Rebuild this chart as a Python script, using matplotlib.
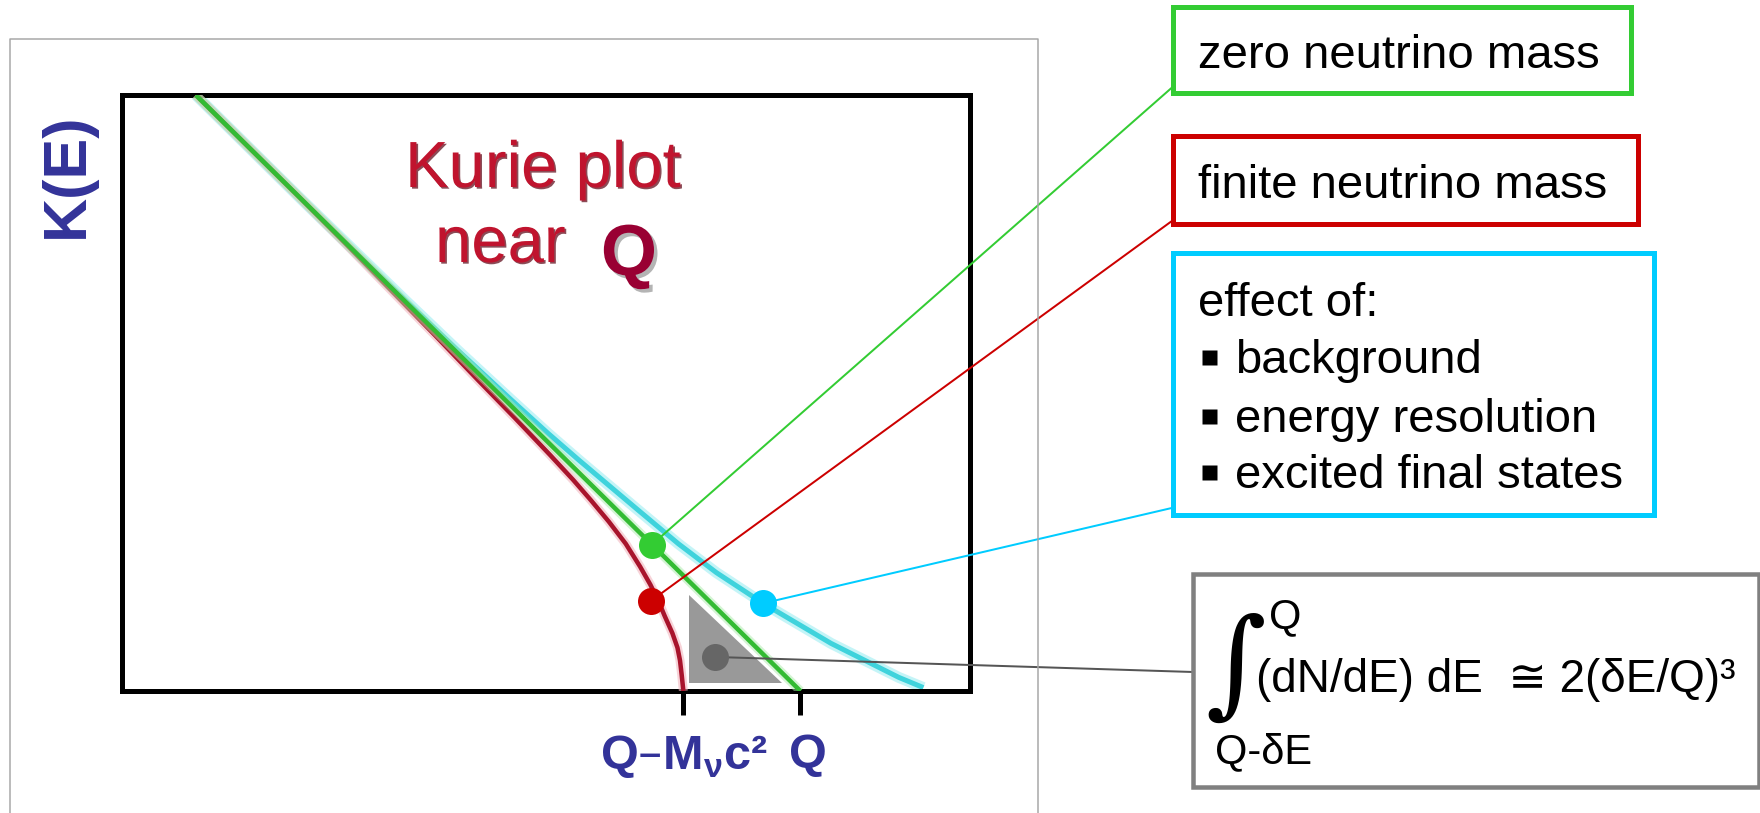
import matplotlib
matplotlib.use("Agg")
import matplotlib.pyplot as plt
from matplotlib.patches import Rectangle, Polygon, ConnectionPatch
from matplotlib.transforms import ScaledTranslation
import matplotlib.patheffects as pe

# ---------------- data (energy E, Kurie function K) ----------------
# zero neutrino mass: straight line ending at Q
energy_zero = [0.87, 8.0]
kurie_zero = [7.0, 0.0]

# finite neutrino mass: bends down to the end point Q - M c^2
energy_finite = [0.87, 2.12, 2.65, 3.17, 3.69, 4.20, 4.63, 5.05, 5.32, 5.53, 5.74,
                 5.94, 6.11, 6.23, 6.32, 6.40, 6.49, 6.55, 6.58, 6.60, 6.62]
kurie_finite = [7.0, 5.77, 5.24, 4.71, 4.18, 3.65, 3.21, 2.77, 2.48, 2.24, 1.99,
                1.73, 1.46, 1.25, 1.07, 0.88, 0.68, 0.51, 0.36, 0.19, 0.0]

# smeared spectrum (background, resolution, final states)
energy_smeared = [0.87, 2.12, 3.34, 3.95, 4.59, 5.02, 5.39, 6.08, 6.56, 7.01,
                  7.56, 8.36, 9.16, 9.45]
kurie_smeared = [7.0, 5.77, 4.59, 4.01, 3.42, 3.03, 2.71, 2.13, 1.73, 1.39,
                 1.03, 0.56, 0.16, 0.04]

# region integrated near the end point
triangle_energy = [6.69, 6.69, 7.78]
triangle_kurie = [1.13, 0.09, 0.09]

# marker dots on each curve
dot_energy = [6.25, 6.24, 7.56, 6.99]
dot_kurie = [1.72, 1.06, 1.03, 0.40]

tick_positions = [6.62, 8.0]
tick_labels = ["Q–M$_{\\mathregular{ν}}$c²", "Q"]

x_range = (0, 10)
y_range = (0, 7)

# ---------------- styling ----------------
GREEN = "#33cc33"
RED = "#cc0000"
CYAN = "#00ccff"
GREY = "#808080"
NAVY = "#333399"
SANS = ["Liberation Sans", "DejaVu Sans"]

W, H, DPI = 1760, 813, 100
fig = plt.figure(figsize=(W / DPI, H / DPI), dpi=DPI, facecolor="white")

def px(v):
    """pixels -> points"""
    return v * 72.0 / DPI

# main plotting area
ax = fig.add_axes([122 / W, (H - 691) / H, 848 / W, 596 / H])
ax.set_xlim(*x_range)
ax.set_ylim(*y_range)
for s in ax.spines.values():
    s.set_linewidth(px(5))
    s.set_color("black")
ax.set_yticks([])
ax.set_xticks(tick_positions, tick_labels)
ax.tick_params(axis="x", direction="out", length=px(24), width=px(5),
               color="black", pad=px(18), labelsize=35, labelcolor=NAVY)
for lbl in ax.get_xticklabels():
    lbl.set_fontweight("bold")
    lbl.set_family(SANS)
q_lbl = ax.get_xticklabels()[1]
q_lbl.set_transform(q_lbl.get_transform() + ScaledTranslation(0.07, 0, fig.dpi_scale_trans))

# overlay in pixel units for annotation layout
ov = fig.add_axes([0, 0, 1, 1])
ov.set_xlim(0, W)
ov.set_ylim(H, 0)
ov.axis("off")
ov.patch.set_alpha(0)
ov.set_zorder(2)

# integrated region
ax.add_patch(Polygon(list(zip(triangle_energy, triangle_kurie)), closed=True,
                     facecolor="#999999", edgecolor="none", zorder=1))

# curves with a soft glow
ax.plot(energy_smeared, kurie_smeared, color="#9eeef2", lw=px(11), alpha=0.6,
        solid_capstyle="butt", solid_joinstyle="round", zorder=2)
ax.plot(energy_smeared, kurie_smeared, color="#3fd3dc", lw=px(5),
        solid_capstyle="butt", solid_joinstyle="round", zorder=2.1)
ax.plot(energy_finite, kurie_finite, color="#f3b6bf", lw=px(9), alpha=0.6,
        solid_capstyle="butt", solid_joinstyle="round", zorder=3)
ax.plot(energy_finite, kurie_finite, color="#a8142c", lw=px(4.5),
        solid_capstyle="butt", solid_joinstyle="round", zorder=3.1)
ax.plot(energy_zero, kurie_zero, color="#aaeaaa", lw=px(9), alpha=0.5,
        solid_capstyle="butt", zorder=4)
ax.plot(energy_zero, kurie_zero, color="#33bb33", lw=px(4.5),
        solid_capstyle="butt", zorder=4.1)

# leader lines from dots to their boxes
leader_ends = [(1176, 84), (1176, 218), (1176, 507), (1193, 672)]
leader_colors = [GREEN, RED, CYAN, "#555555"]
for e, k, end, c in zip(dot_energy, dot_kurie, leader_ends, leader_colors):
    con = ConnectionPatch(xyA=(e, k), coordsA=ax.transData, xyB=end,
                          coordsB=ov.transData, color=c, lw=px(2), zorder=5)
    ax.add_artist(con)
    con.set_clip_on(False)

dot_colors = [GREEN, RED, CYAN, "#666666"]
for e, k, c in zip(dot_energy, dot_kurie, dot_colors):
    ax.plot(e, k, "o", ms=px(27), color=c, mec="none", zorder=6, clip_on=False)

# outer light frame around the plot panel
ov.plot([10, 10, 1038, 1038], [H, 39, 39, H], color="#a6a6a6", lw=px(1.5))

# axis title
ov.text(67, 175, "K(E)", rotation=90, ha="center", va="center",
        fontsize=44, fontweight="bold", color=NAVY, family=SANS)

# "Kurie plot near Q"
shadow = [pe.SimplePatchShadow(offset=(1.2, -1.2), shadow_rgbFace="#5a0010", alpha=0.7),
          pe.Normal()]
ov.text(405, 187, "Kurie plot", ha="left", va="baseline", fontsize=47,
        color="#c0142e", family=SANS, path_effects=shadow)
ov.text(435, 262, "near", ha="left", va="baseline", fontsize=47,
        color="#c0142e", family=SANS, path_effects=shadow)
ov.add_patch(Rectangle((578, 193), 100, 94, facecolor="white", edgecolor="none"))
ov.text(629, 275, "Q", ha="center", va="baseline", fontsize=52, fontweight="bold",
        color="#990033", family=SANS,
        path_effects=[pe.SimplePatchShadow(offset=(2.5, -2.5), shadow_rgbFace="#b4b4b4",
                                           alpha=1.0), pe.Normal()])

# legend-like boxes on the right
def box(x0, y0, x1, y1, color, lw=5):
    ov.add_patch(Rectangle((x0, y0), x1 - x0, y1 - y0, facecolor="white",
                           edgecolor=color, lw=px(lw)))

TXT = dict(ha="left", va="baseline", fontsize=34, color="black", family=SANS)

box(1173, 7, 1631, 93, GREEN)
ov.text(1198, 68, "zero neutrino mass", **TXT)

box(1173, 136, 1638, 224, RED)
ov.text(1198, 198, "finite neutrino mass", **TXT)

box(1173, 253, 1654, 515, CYAN)
ov.text(1198, 316, "effect of:", **TXT)
items = ["background", "energy resolution", "excited final states"]
baselines = [373, 432, 488]
for item, yb in zip(items, baselines):
    ov.plot(1209, yb - 16, "s", ms=px(15), color="black", mec="none")
    ov.text(1235, yb, item, **TXT)

box(1193, 574, 1759, 787, GREY, lw=4.5)
ov.text(1236, 669, "∫", ha="center", va="center", fontsize=84,
        family=["DejaVu Serif"], color="black")
ov.text(1269, 628, "Q", ha="left", va="baseline", fontsize=30, family=SANS)
ov.text(1215, 763, "Q-δE", ha="left", va="baseline", fontsize=30, family=SANS)
ov.text(1256, 692, "(dN/dE) dE  ≅ 2(δE/Q)³", ha="left", va="baseline",
        fontsize=33, family=SANS)

fig.savefig("out.png", dpi=DPI, facecolor="white")
